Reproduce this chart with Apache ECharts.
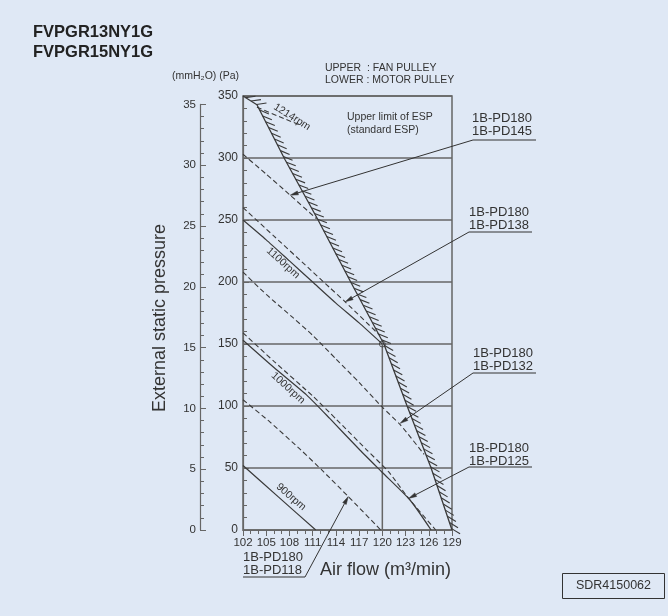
<!DOCTYPE html>
<html>
<head>
<meta charset="utf-8">
<script src="https://cdn.jsdelivr.net/npm/echarts/dist/echarts.min.js"></script>
<style>
  html, body { margin: 0; padding: 0; background: #dfe8f5; }
  #chart { width: 668px; height: 616px; }
</style>
</head>
<body>
<div id="chart"></div>
<script>
// axes
const flowMin = 102, flowMax = 129, flowStep = 3;
const paMax = 350, paStep = 50;
const mmMax = 35, mmStep = 5;
const PA_PER_MM = 9.80665;

// upper limit of ESP (hatched)
const limitFlow = [102, 103.8, 107.4, 111.7, 116.0, 120.2, 123.2, 126.3, 129];
const limitPa   = [350, 343, 299, 250, 199, 150, 100, 50, 0];

// fan speed curves (solid)
const rpm1214Flow = [103.8, 107.6, 109.6];
const rpm1214Pa   = [341, 331, 326];
const rpm1100Flow = [102, 105, 108, 111, 114, 117, 120];
const rpm1100Pa   = [250, 234, 217, 200, 183, 167, 150];
const rpm1000Flow = [102, 106, 110.2, 113.2, 117.1, 119.9, 123.6, 126.3];
const rpm1000Pa   = [153, 131, 109, 90, 64.5, 47, 24, 0];
const rpm900Flow  = [102, 106.6, 111.4];
const rpm900Pa    = [52, 26.5, 0];

// pulley combination curves (dashed)
const pd145Flow = [102, 105, 108.1, 111.5];
const pd145Pa   = [303, 287, 270, 251];
const pd138Flow = [102, 106, 110, 113.2, 115.2, 119.5];
const pd138Pa   = [260, 237, 214, 195.5, 184, 158];
const pd132Flow = [102, 105, 108.5, 111, 114, 117, 120, 122.3, 125.4];
const pd132Pa   = [208, 190, 171, 157, 138, 119, 99, 85, 61];
const pd125Flow = [102, 106, 111.1, 114.1, 118, 120.8, 123.4, 126.9];
const pd125Pa   = [159, 136, 107.5, 89, 64.5, 47, 25.5, 0];
const pd118Flow = [102, 105.5, 109.4, 112.4, 115.6, 119.8];
const pd118Pa   = [105, 87, 65, 47, 27, 0];

// rated point
const ratedFlow = 120, ratedPa = 150;

// pulley call-outs: fan / motor pulley and the point each arrow points to
const fanPulley   = ['1B-PD180', '1B-PD180', '1B-PD180', '1B-PD180', '1B-PD180'];
const motorPulley = ['1B-PD145', '1B-PD138', '1B-PD132', '1B-PD125', '1B-PD118'];
const arrowFlow   = [108.1, 115.2, 122.3, 123.4, 115.6];
const arrowPa     = [270, 184, 86, 25.5, 27];

const FONT = '"Liberation Sans", Arial, Helvetica, sans-serif';
const INK = '#3a3a3a';
const GRIDC = '#666';

function zip(xs, ys) { return xs.map((x, i) => [x, ys[i]]); }

function curve(data, dashed) {
    return {
        type: 'line',
        data: data,
        symbol: 'none',
        smooth: 0.2,
        silent: true,
        z: 4,
        lineStyle: { color: INK, width: dashed ? 1.1 : 1.2, type: dashed ? [5, 3] : 'solid' }
    };
}

// short strokes along the right side of the limit line
function renderHatch(params, api) {
    const pts = limitFlow.map((f, i) => api.coord([f, limitPa[i]]));
    const children = [];
    const step = 6.5, len = 10, ang = 40 * Math.PI / 180;
    let carry = 3;
    for (let i = 0; i < pts.length - 1; i++) {
        const x0 = pts[i][0], y0 = pts[i][1], x1 = pts[i + 1][0], y1 = pts[i + 1][1];
        const seg = Math.hypot(x1 - x0, y1 - y0);
        const tx = (x1 - x0) / seg, ty = (y1 - y0) / seg;
        const nx = ty, ny = -tx;
        const dx = tx * Math.cos(ang) + nx * Math.sin(ang);
        const dy = ty * Math.cos(ang) + ny * Math.sin(ang);
        let d = carry;
        while (d < seg) {
            const px = x0 + tx * d, py = y0 + ty * d;
            children.push({
                type: 'line',
                shape: { x1: px, y1: py, x2: px + dx * len, y2: py + dy * len },
                style: { stroke: INK, lineWidth: 1.1 }
            });
            d += step;
        }
        carry = d - seg;
    }
    return { type: 'group', children: children };
}

function txt(text, x, y, size, opts) {
    opts = opts || {};
    return {
        type: 'text',
        x: x, y: y,
        rotation: opts.rotation || 0,
        silent: true,
        z: 20,
        style: {
            text: text,
            font: (opts.bold ? 'bold ' : '') + size + 'px ' + FONT,
            fill: opts.color || '#333',
            align: opts.align || 'left',
            textAlign: opts.align || 'left',
            verticalAlign: 'middle',
            textVerticalAlign: 'middle'
        }
    };
}

const deg = Math.PI / 180;
const staticGraphics = [
    txt('FVPGR13NY1G', 33, 32, 16.5, { bold: true, color: '#222' }),
    txt('FVPGR15NY1G', 33, 52, 16.5, { bold: true, color: '#222' }),
    txt('(mmH₂O) (Pa)', 172, 76, 10.5),
    txt('UPPER  : FAN PULLEY', 325, 68, 10.5),
    txt('LOWER : MOTOR PULLEY', 325, 80, 10.5),
    txt('Upper limit of ESP', 347, 117, 10.5),
    txt('(standard ESP)', 347, 130, 10.5),
    txt('External static pressure', 160, 318, 18, { align: 'center', rotation: Math.PI / 2 }),
    txt('Air flow (m³/min)', 320, 570, 18),
    txt('1214rpm', 292, 117, 10.5, { align: 'center', rotation: -32 * deg }),
    txt('1100rpm', 283, 263, 10.5, { align: 'center', rotation: -42 * deg }),
    txt('1000rpm', 288, 388, 10.5, { align: 'center', rotation: -42 * deg }),
    txt('900rpm', 291, 497, 10.5, { align: 'center', rotation: -41 * deg }),
    {
        type: 'rect', silent: true, z: 20,
        shape: { x: 562.5, y: 573.5, width: 102, height: 25 },
        style: { fill: 'none', stroke: '#333', lineWidth: 1 }
    },
    txt('SDR4150062', 613.5, 586, 12.5, { align: 'center' })
];

// where each call-out text sits (left edge, first line y, underline y and span, leader start)
const calloutLayout = [
    { x: 472, y: 118, uy: 140, ux0: 473, ux1: 536, sx: 473 },
    { x: 469, y: 212, uy: 232, ux0: 469, ux1: 532, sx: 469 },
    { x: 473, y: 353, uy: 373, ux0: 473, ux1: 536, sx: 473 },
    { x: 469, y: 448, uy: 467, ux0: 469, ux1: 532, sx: 469 },
    { x: 243, y: 557, uy: 577, ux0: 243, ux1: 305, sx: 305 }
];

const chart = echarts.init(document.getElementById('chart'), null, { renderer: 'canvas' });

const option = {
    backgroundColor: '#dfe8f5',
    animation: false,
    grid: [
        { left: 243, top: 96, width: 209, height: 434, show: true, borderColor: GRIDC, borderWidth: 1.5, backgroundColor: 'transparent' },
        { left: 200, top: 530 - 434 * (mmMax * PA_PER_MM / paMax), width: 10, height: 434 * (mmMax * PA_PER_MM / paMax), show: false }
    ],
    xAxis: [
        {
            gridIndex: 0, type: 'value', min: flowMin, max: flowMax, interval: flowStep,
            axisLine: { show: true, onZero: false, lineStyle: { color: GRIDC, width: 1.2 } },
            axisTick: { show: true, length: 6, lineStyle: { color: GRIDC } },
            minorTick: { show: true, splitNumber: 3, length: 4, lineStyle: { color: GRIDC } },
            splitLine: { show: false },
            axisLabel: { fontSize: 11.5, color: '#333', margin: 7, fontFamily: FONT }
        },
        { gridIndex: 1, type: 'value', min: 0, max: 1, show: false }
    ],
    yAxis: [
        {
            gridIndex: 0, type: 'value', min: 0, max: paMax, interval: paStep,
            axisLine: { show: true, lineStyle: { color: GRIDC, width: 1.2 } },
            axisTick: { show: true, inside: true, length: 6, lineStyle: { color: GRIDC } },
            minorTick: { show: true, splitNumber: 5, length: 4, lineStyle: { color: GRIDC } },
            splitLine: { show: true, lineStyle: { color: GRIDC, width: 1.5 } },
            axisLabel: { fontSize: 12, color: '#333', margin: 5, fontFamily: FONT }
        },
        {
            gridIndex: 1, type: 'value', min: 0, max: mmMax, interval: mmStep,
            axisLine: { show: true, lineStyle: { color: GRIDC, width: 1.2 } },
            axisTick: { show: true, inside: true, length: 6, lineStyle: { color: GRIDC } },
            minorTick: { show: true, splitNumber: 5, length: 4, lineStyle: { color: GRIDC } },
            splitLine: { show: false },
            axisLabel: { fontSize: 11.5, color: '#333', margin: 4, fontFamily: FONT }
        }
    ],
    series: [
        {
            type: 'line', data: zip(limitFlow, limitPa), symbol: 'none', silent: true, z: 5,
            lineStyle: { color: INK, width: 1.3 }
        },
        { type: 'custom', data: [0], renderItem: renderHatch, silent: true, z: 5, clip: false },
        curve(zip(rpm1214Flow, rpm1214Pa), true),
        curve(zip(rpm1100Flow, rpm1100Pa), false),
        curve(zip(rpm1000Flow, rpm1000Pa), false),
        curve(zip(rpm900Flow, rpm900Pa), false),
        curve(zip(pd145Flow, pd145Pa), true),
        curve(zip(pd138Flow, pd138Pa), true),
        curve(zip(pd132Flow, pd132Pa), true),
        curve(zip(pd125Flow, pd125Pa), true),
        curve(zip(pd118Flow, pd118Pa), true),
        {
            type: 'line', data: [[ratedFlow, 0], [ratedFlow, ratedPa]], symbol: 'none', silent: true, z: 3,
            lineStyle: { color: GRIDC, width: 1.5 }
        },
        {
            type: 'scatter', data: [[ratedFlow, ratedPa]], symbol: 'circle', symbolSize: 6, silent: true, z: 6,
            itemStyle: { color: 'transparent', borderColor: INK, borderWidth: 1 }
        }
    ],
    graphic: staticGraphics
};

chart.setOption(option);

// call-outs with leader arrows, arrow tips placed through the chart's scales
const calloutGraphics = [];
calloutLayout.forEach((c, i) => {
    const tip = chart.convertToPixel({ gridIndex: 0 }, [arrowFlow[i], arrowPa[i]]);
    calloutGraphics.push(txt(fanPulley[i], c.x, c.y, 13));
    calloutGraphics.push(txt(motorPulley[i], c.x, c.y + 13, 13));
    calloutGraphics.push({
        type: 'polyline', silent: true, z: 20,
        shape: { points: [[c.ux1, c.uy], [c.ux0, c.uy]] },
        style: { stroke: '#333', lineWidth: 1, fill: 'none' }
    });
    const sx = c.sx, sy = c.uy;
    const len = Math.hypot(tip[0] - sx, tip[1] - sy);
    const ux = (tip[0] - sx) / len, uy = (tip[1] - sy) / len;
    const bx = tip[0] - ux * 8, by = tip[1] - uy * 8;
    calloutGraphics.push({
        type: 'line', silent: true, z: 20,
        shape: { x1: sx, y1: sy, x2: bx, y2: by },
        style: { stroke: '#333', lineWidth: 1 }
    });
    calloutGraphics.push({
        type: 'polygon', silent: true, z: 20,
        shape: { points: [tip, [bx - uy * 2, by + ux * 2], [bx + uy * 2, by - ux * 2]] },
        style: { fill: '#333', stroke: '#333', lineWidth: 0.5 }
    });
});

chart.setOption({ graphic: staticGraphics.concat(calloutGraphics) });
</script>
</body>
</html>
